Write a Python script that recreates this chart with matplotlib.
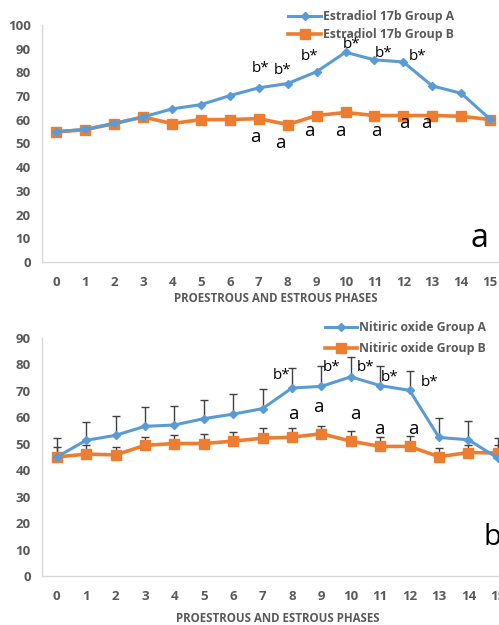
"""Estradiol 17b and nitric oxide across proestrous and estrous phases (two panels)."""

import numpy as np
import matplotlib
matplotlib.use('Agg')
import matplotlib.pyplot as plt

# phases on the x axis
phases = list(range(16))

# panel a: estradiol 17b
estradiol_a = [55, 56, 58.5, 61.2, 64.6, 66.4, 70.2, 73.5, 75.3, 80.3, 88.5, 85.3, 84.4, 74.3, 71.2, 60.3]
estradiol_b = [54.9, 55.8, 58.4, 61.2, 58.4, 60.1, 60.1, 60.5, 58.0, 61.8, 63.1, 61.8, 61.8, 61.8, 61.5, 60.1]

# panel b: nitric oxide with upper error bars
nitric_a = [45.0, 51.3, 53.2, 56.6, 57.1, 59.5, 61.2, 63.3, 71.1, 71.7, 75.3, 72.0, 70.2, 52.4, 51.5, 44.6]
nitric_a_err = [7.0, 7.0, 7.3, 7.2, 7.3, 6.9, 7.5, 7.5, 7.6, 7.7, 7.4, 7.5, 7.3, 7.3, 7.2, 7.5]
nitric_b = [45.0, 46.1, 45.8, 49.4, 50.1, 50.1, 51.0, 52.1, 52.5, 53.8, 51.0, 49.0, 49.0, 45.1, 46.7, 46.5]
nitric_b_err = [3.6, 3.4, 2.8, 3.2, 3.4, 3.7, 3.5, 3.7, 3.5, 3.0, 3.7, 3.5, 3.8, 3.2, 3.0, 3.0]

# significance letters (label, x, y)
marks_a = [('b*', 7.07, 81.5), ('b*', 7.82, 81.0), ('b*', 8.76, 86.9), ('b*', 10.2, 91.6),
           ('b*', 11.3, 88.0), ('b*', 12.5, 86.9),
           ('a', 6.88, 52.9), ('a', 7.76, 50.4), ('a', 8.76, 55.3), ('a', 9.83, 55.3),
           ('a', 11.05, 55.3), ('a', 12.02, 58.8), ('a', 12.8, 58.8)]
marks_b = [('b*', 7.64, 75.9), ('b*', 9.34, 78.7), ('b*', 10.51, 78.7), ('b*', 11.33, 74.9),
           ('b*', 12.69, 73.0),
           ('a', 8.04, 61.2), ('a', 8.89, 63.9), ('a', 10.17, 61.4), ('a', 10.96, 55.7),
           ('a', 12.12, 55.7)]

BLUE = '#5B9BD5'
ORANGE = '#ED7D31'
GREY = '#595959'
FONT = 'Open Sans'

plt.rcParams['font.family'] = [FONT, 'DejaVu Sans']

fig = plt.figure(figsize=(4.99, 6.25), dpi=100)
ax1 = fig.add_axes([42 / 499, 1 - 262 / 625, 457 / 499, 237 / 625])
ax2 = fig.add_axes([42 / 499, 1 - 576 / 625, 457 / 499, 238 / 625])


def style_axis(ax, ymax, xmax):
    ax.set_xlim(-0.5, xmax)
    ax.set_ylim(0, ymax)
    ax.set_xticks(phases)
    ax.set_yticks(range(0, ymax + 1, 10))
    for s in ['top', 'right']:
        ax.spines[s].set_visible(False)
    for s in ['left', 'bottom']:
        ax.spines[s].set_color('#d9d9d9')
        ax.spines[s].set_linewidth(1.0)
    ax.tick_params(axis='both', length=0, labelsize=9.5, labelcolor=GREY)
    ax.tick_params(axis='y', pad=8)
    ax.tick_params(axis='x', pad=10)
    for lab in ax.get_xticklabels() + ax.get_yticklabels():
        lab.set_fontweight('bold')


def put_marks(ax, marks):
    for txt, x, y in marks:
        size = 13.5 if txt == 'a' else 11
        ax.text(x, y, txt, ha='center', va='center', fontsize=size, color='black')


# panel a
style_axis(ax1, 100, 15.31)
ax1.plot(phases, estradiol_a, color=BLUE, lw=2.2, marker='D', ms=4.5,
         label='Estradiol 17b Group A', zorder=4, clip_on=False)
ax1.plot(phases, estradiol_b, color=ORANGE, lw=2.6, marker='s', ms=7.5,
         label='Estradiol 17b Group B', zorder=3, clip_on=False)
put_marks(ax1, marks_a)
ax1.text(14.62, 10, 'a', ha='center', va='center', fontsize=23, color='black')
ax1.legend(loc='upper left', bbox_to_anchor=(288 / 499, 1 - 10 / 625),
           bbox_transform=fig.transFigure, frameon=False, borderpad=0,
           borderaxespad=0, handlelength=2.7, handletextpad=0.15,
           labelspacing=0.4, prop={'family': FONT, 'weight': 'bold', 'size': 8.8},
           labelcolor=GREY)

# panel b
style_axis(ax2, 90, 15.04)
ax2.errorbar(phases, nitric_a, yerr=[np.zeros(16), nitric_a_err], fmt='none',
             ecolor='#404040', elinewidth=1, capsize=3, capthick=1, zorder=2, clip_on=False)
ax2.errorbar(phases, nitric_b, yerr=[np.zeros(16), nitric_b_err], fmt='none',
             ecolor='#404040', elinewidth=1, capsize=3, capthick=1, zorder=2, clip_on=False)
ax2.plot(phases, nitric_a, color=BLUE, lw=2.2, marker='D', ms=4.5,
         label='Nitiric oxide Group A', zorder=4, clip_on=False)
ax2.plot(phases, nitric_b, color=ORANGE, lw=2.6, marker='s', ms=7.5,
         label='Nitiric oxide Group B', zorder=3, clip_on=False)
put_marks(ax2, marks_b)
ax2.text(14.8, 14.7, 'b', ha='center', va='center', fontsize=21, color='black')
ax2.legend(loc='upper left', bbox_to_anchor=(325 / 499, 1 - 321 / 625),
           bbox_transform=fig.transFigure, frameon=False, borderpad=0,
           borderaxespad=0, handlelength=2.6, handletextpad=0.15,
           labelspacing=0.65, prop={'family': FONT, 'weight': 'bold', 'size': 8.8},
           labelcolor=GREY)

# x axis titles
fig.text(276 / 499, 1 - 298 / 625, 'PROESTROUS AND ESTROUS PHASES', ha='center', va='center',
         fontsize=8.3, fontweight='bold', color=GREY)
fig.text(278 / 499, 1 - 618 / 625, 'PROESTROUS AND ESTROUS PHASES', ha='center', va='center',
         fontsize=8.3, fontweight='bold', color=GREY)

fig.savefig('out.png', dpi=100)
